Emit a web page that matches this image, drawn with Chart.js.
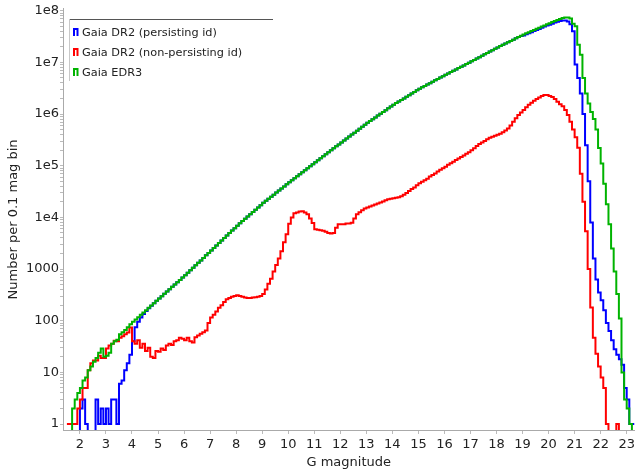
<!DOCTYPE html>
<html>
<head>
<meta charset="utf-8">
<script src="https://cdn.jsdelivr.net/npm/chart.js@4.4.1/dist/chart.umd.min.js"></script>
<style>
  html, body { margin: 0; padding: 0; background: #fff; }
  #wrap { width: 638px; height: 472px; }
</style>
</head>
<body>
<div id="wrap"><canvas id="gaia-chart" width="638" height="472"></canvas></div>
<script>
// histogram bins: 0.1 mag wide, first bin starts at G = 1.5
const magStart = 1.5
const binWidth = 0.1

const seriesLabels = ['Gaia DR2 (persisting id)', 'Gaia DR2 (non-persisting id)', 'Gaia EDR3']
const seriesColors = ['#0000ff', '#ff0000', '#00b300']

// counts per bin (0 = empty bin)
const dr2Persisting = [
  0, 0, 0, 0, 0, 2, 3, 1, 0, 0,                                   // 1.5
  0, 3, 1, 2, 1, 2, 1, 3, 3, 1,                                   // 2.5
  6, 7, 11, 15, 22, 40, 75, 95, 115, 135,                         // 3.5
  155, 175, 195, 219, 243, 269, 299, 331, 367, 407,               // 4.5
  452, 501, 556, 617, 684, 759, 847, 946, 1060, 1180,             // 5.5
  1320, 1470, 1640, 1840, 2050, 2290, 2560, 2860, 3190, 3560,     // 6.5
  3980, 4450, 4970, 5550, 6190, 6920, 7660, 8470, 9380, 10400,    // 7.5
  11500, 12700, 14100, 15600, 17200, 19100, 20900, 22900, 25100, 27500,
  30200, 33100, 36300, 39800, 43700, 47900, 52400, 57300, 62700, 68500,
  75000, 82000, 89700, 98200, 107000, 117000, 128000, 140000, 153000, 167000,
  182000, 199000, 217000, 237000, 258000, 282000, 308000, 336000, 366000, 400000,
  437000, 476000, 520000, 568000, 619000, 676000, 733000, 794000, 861000, 933000,
  1010000, 1100000, 1190000, 1290000, 1400000, 1510000, 1630000, 1750000, 1870000, 2010000,
  2160000, 2320000, 2490000, 2680000, 2880000, 3090000, 3290000, 3500000, 3720000, 3960000,
  4220000, 4490000, 4780000, 5080000, 5410000, 5750000, 6110000, 6490000, 6890000, 7310000,
  7760000, 8240000, 8750000, 9290000, 9860000, 10500000, 11100000, 11900000, 12600000, 13400000,
  14300000, 15200000, 16200000, 17200000, 18300000, 19500000, 20700000, 21900000, 23200000, 24500000,
  26000000, 27500000, 29200000, 30900000, 32400000, 33000000, 35000000, 36500000, 38500000, 40500000,
  42500000, 44500000, 47000000, 49500000, 52000000, 53700000, 56200000, 58900000, 61000000, 63100000,
  64600000, 64600000, 61700000, 55000000, 40000000, 9100000, 5000000, 2500000, 1000000, 250000,
  50000, 8000, 1600, 630, 350, 250, 160, 90, 63, 42,              // 21.5
  28, 22, 18, 14, 5, 3, 1, 1                                      // 22.5
]

const dr2NonPersisting = [
  1, 1, 1, 1, 2, 3, 5, 5, 11, 15,                                 // 1.5
  17, 17, 21, 19, 19, 29, 33, 36, 41, 40,                         // 2.5
  47, 50, 55, 59, 74, 40, 36, 42, 30, 36,                         // 3.5
  26, 30, 20, 19, 26, 25, 29, 27, 33, 36,                         // 4.5
  34, 40, 42, 47, 45, 42, 47, 40, 38, 48,                         // 5.5
  52, 56, 60, 65, 90, 115, 130, 150, 178, 200,                    // 6.5
  230, 260, 275, 290, 300, 310, 300, 290, 280, 275,               // 7.5
  275, 280, 285, 290, 300, 330, 400, 520, 650, 900,               // 8.5
  1200, 1600, 2200, 3300, 4700, 7500, 10000, 12000, 12500, 13000, // 9.5
  13200, 12500, 11500, 9500, 7800, 5900, 5750, 5620, 5500, 5250,  // 10.5
  5000, 4900, 5000, 6300, 7400, 7400, 7400, 7600, 7600, 7900,     // 11.5
  9500, 11500, 12600, 13800, 14800, 15500, 16200, 17000, 17800, 18600,
  19500, 20400, 21400, 22400, 22900, 23400, 24000, 24500, 25700, 27500,
  29500, 32400, 35500, 38000, 41700, 45700, 49000, 52500, 56200, 61700,
  66100, 70800, 77600, 83200, 89100, 95500, 105000, 112000, 120000, 129000,
  138000, 148000, 158000, 170000, 182000, 200000, 219000, 240000, 263000, 282000,
  302000, 324000, 347000, 363000, 380000, 398000, 417000, 447000, 479000, 525000,
  603000, 708000, 832000, 955000, 1070000, 1200000, 1350000, 1510000, 1660000, 1820000,
  1950000, 2090000, 2240000, 2340000, 2340000, 2240000, 2140000, 1950000, 1740000, 1550000,
  1410000, 1200000, 955000, 708000, 501000, 355000, 224000, 70000, 20000, 5400,
  1000, 180, 47, 23, 13, 8, 5, 1, 0, 0,                           // 21.5
  0, 1, 0, 0, 0, 0, 0, 0                                          // 22.5
]

const edr3 = [
  0, 0, 2, 3, 4, 5, 7, 8, 11, 13,                                 // 1.5
  16, 19, 24, 29, 20, 21, 24, 36, 40, 43,                         // 2.5
  55, 60, 66, 75, 85, 95, 106, 117, 130, 145,                     // 3.5
  160, 178, 197, 219, 243, 269, 299, 331, 367, 407,               // 4.5
  452, 501, 556, 617, 684, 759, 847, 946, 1060, 1180,             // 5.5
  1320, 1470, 1640, 1840, 2050, 2290, 2560, 2860, 3190, 3560,     // 6.5
  3980, 4450, 4970, 5550, 6190, 6920, 7660, 8470, 9380, 10400,    // 7.5
  11500, 12700, 14100, 15600, 17200, 19100, 20900, 22900, 25100, 27500,
  30200, 33100, 36300, 39800, 43700, 47900, 52400, 57300, 62700, 68500,
  75000, 82000, 89700, 98200, 107000, 117000, 128000, 140000, 153000, 167000,
  182000, 199000, 217000, 237000, 258000, 282000, 308000, 336000, 366000, 400000,
  437000, 476000, 520000, 568000, 619000, 676000, 733000, 794000, 861000, 933000,
  1010000, 1100000, 1190000, 1290000, 1400000, 1510000, 1630000, 1750000, 1870000, 2010000,
  2160000, 2320000, 2490000, 2680000, 2880000, 3090000, 3290000, 3500000, 3720000, 3960000,
  4220000, 4490000, 4780000, 5080000, 5410000, 5750000, 6110000, 6490000, 6890000, 7310000,
  7760000, 8240000, 8750000, 9290000, 9860000, 10500000, 11100000, 11900000, 12600000, 13400000,
  14300000, 15200000, 16200000, 17200000, 18300000, 19500000, 20700000, 21900000, 23200000, 24500000,
  26000000, 27500000, 29200000, 30900000, 32700000, 34700000, 36500000, 38400000, 40400000, 42500000,
  44700000, 47000000, 49400000, 52000000, 54700000, 57500000, 60300000, 63100000, 66100000, 69200000,
  72400000, 74100000, 74100000, 70800000, 56000000, 50000000, 22000000, 14000000, 5000000, 2500000,
  1600000, 1100000, 800000, 500000, 220000, 110000, 45000, 18000, 7400, 2500, // 21.5
  900, 330, 110, 10, 3, 2, 1, 0                                   // 22.5
]

// y axis: labelled decades, unlabelled minor ticks in between
const yDecades = [1, 10, 100, 1000, 1e4, 1e5, 1e6, 1e7, 1e8]
const yDecadeLabels = ['1', '10', '100', '1000', '1e4', '1e5', '1e6', '1e7', '1e8']

const xMin = 1.35, xMax = 23.3
const yMin = 0.767, yMax = 1.09e8
const emptyBin = 0.3   // drawn below the axis, gets clipped like the original

const toSteps = counts => {
    const pts = counts.map((c, i) => ({ x: +(magStart + i * binWidth).toFixed(2), y: c > 0 ? c : emptyBin }))
    pts.push({ x: +(magStart + counts.length * binWidth).toFixed(2), y: pts[pts.length - 1].y })
    return pts
}

const legendBox = {
    id: 'legendBox',
    afterDatasetsDraw(chart) {
        const ctx = chart.ctx
        ctx.save()
        ctx.lineWidth = 1
        ctx.strokeStyle = '#555'
        ctx.beginPath(); ctx.moveTo(70, 19.5); ctx.lineTo(273, 19.5); ctx.stroke()
        ctx.strokeStyle = '#c8c8c8'
        ctx.beginPath(); ctx.moveTo(69.5, 19); ctx.lineTo(69.5, 81); ctx.stroke()
        ctx.font = '11.3px "DejaVu Sans"'
        ctx.textBaseline = 'middle'
        ctx.fillStyle = '#222'
        seriesLabels.forEach((lab, i) => {
            const y = 33 + i * 20
            ctx.strokeStyle = seriesColors[i]
            ctx.lineWidth = 2
            ctx.beginPath()
            ctx.moveTo(74, y + 3); ctx.lineTo(74, y - 4); ctx.lineTo(77.5, y - 4); ctx.lineTo(77.5, y + 3)
            ctx.stroke()
            ctx.fillText(lab, 82, y)
        })
        ctx.restore()
    }
}

const datasetsFrom = [dr2Persisting, dr2NonPersisting, edr3]
const drawOrder = [2, 1, 0]   // EDR3 on top, as in the original

let chart = null
try {
    Chart.defaults.font.family = '"DejaVu Sans", sans-serif'
    chart = new Chart(document.getElementById('gaia-chart'), {
        type: 'line',
        data: {
            datasets: datasetsFrom.map((counts, i) => ({
                label: seriesLabels[i],
                data: toSteps(counts),
                borderColor: seriesColors[i],
                borderWidth: 2,
                stepped: true,
                pointRadius: 0,
                fill: false,
                order: drawOrder[i]
            }))
        },
        options: {
            responsive: false,
            animation: false,
            events: [],
            layout: { padding: { left: 0, right: 2, top: 6, bottom: 2 } },
            plugins: { legend: { display: false }, tooltip: { enabled: false } },
            scales: {
                x: {
                    type: 'linear',
                    min: xMin,
                    max: xMax,
                    afterFit: s => { s.height = 40 },
                    ticks: { stepSize: 1, includeBounds: false, color: '#222', font: { size: 13 }, padding: 3 },
                    grid: { drawOnChartArea: false, tickLength: 4, color: '#bbb' },
                    border: { color: '#aaa', dash: [1, 2] },
                    title: { display: true, text: 'G magnitude', color: '#222', font: { size: 13 }, padding: { top: 0, bottom: 0 } }
                },
                y: {
                    type: 'logarithmic',
                    min: yMin,
                    max: yMax,
                    afterFit: s => { s.width = 63 },
                    afterBuildTicks: s => {
                        const t = []
                        yDecades.forEach(d => {
                            for (let k = 1; k <= 9; k++) {
                                const v = d * k
                                if (v <= yMax) t.push({ value: v, major: k === 1 })
                            }
                        })
                        s.ticks = t
                    },
                    ticks: {
                        autoSkip: false,
                        color: '#222',
                        font: { size: 13 },
                        padding: 1,
                        callback: v => {
                            const i = yDecades.indexOf(v)
                            return i >= 0 ? yDecadeLabels[i] : ''
                        }
                    },
                    grid: { drawOnChartArea: false, tickLength: 3, color: '#bbb' },
                    border: { color: '#aaa', dash: [1, 2] },
                    title: { display: true, text: 'Number per 0.1 mag bin', color: '#222', font: { size: 13 }, padding: { top: 6, bottom: 0 } }
                }
            }
        },
        plugins: [legendBox]
    })
} catch (e) {
    console.log(e)
}
</script>
</body>
</html>
